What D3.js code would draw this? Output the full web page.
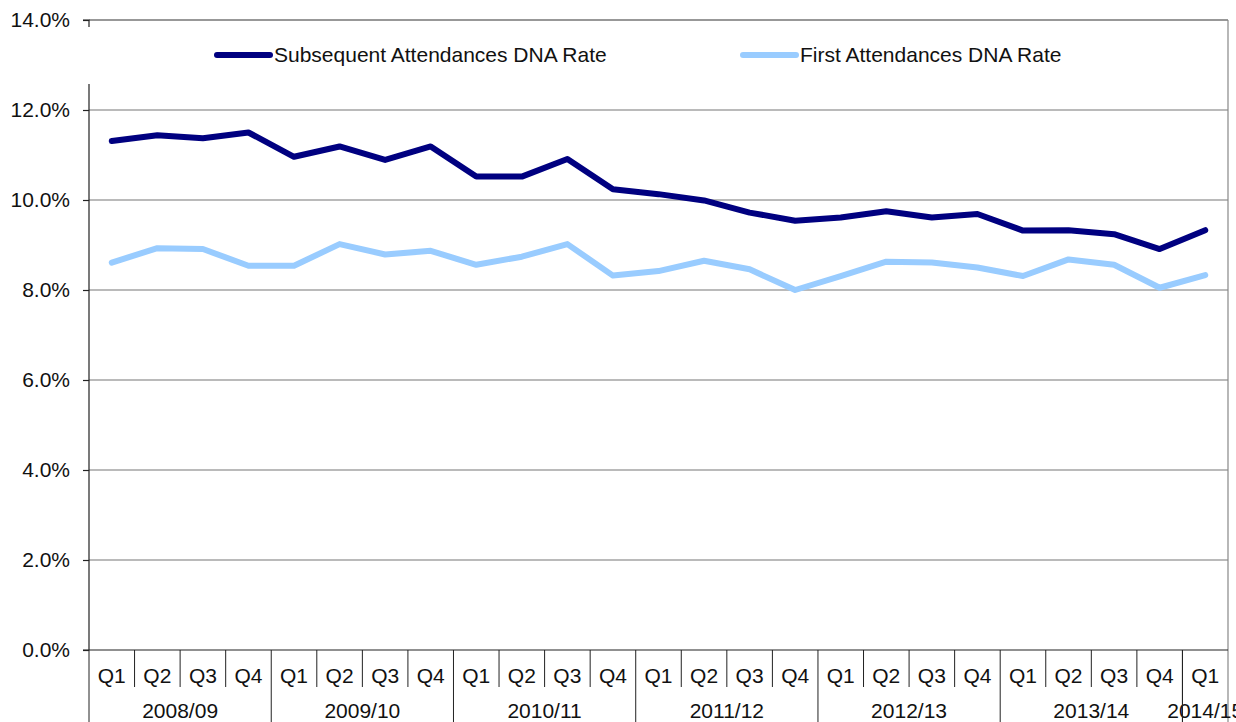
<!DOCTYPE html>
<html><head><meta charset="utf-8">
<script src="https://cdn.jsdelivr.net/npm/d3@7"></script>
<style>html,body{margin:0;padding:0;background:#fff}svg{display:block;font-family:"Liberation Sans",Arial,sans-serif}</style>
</head><body>
<svg id="c" width="1236" height="722"></svg>
<script>
const quarters = ["Q1","Q2","Q3","Q4","Q1","Q2","Q3","Q4","Q1","Q2","Q3","Q4","Q1","Q2","Q3","Q4","Q1","Q2","Q3","Q4","Q1","Q2","Q3","Q4","Q1"];
const years = ["2008/09","2009/10","2010/11","2011/12","2012/13","2013/14","2014/15"];
const subsequent = [11.31,11.44,11.37,11.50,10.96,11.19,10.89,11.19,10.52,10.52,10.91,10.24,10.13,9.99,9.72,9.54,9.61,9.75,9.61,9.69,9.32,9.33,9.24,8.91,9.33];
const first = [8.61,8.93,8.91,8.54,8.54,9.02,8.79,8.87,8.56,8.74,9.02,8.32,8.42,8.65,8.46,8.00,8.31,8.63,8.61,8.50,8.31,8.68,8.56,8.05,8.33];
const yTicks = [0,2,4,6,8,10,12,14];
const seriesNames = ["Subsequent Attendances DNA Rate","First Attendances DNA Rate"];
const colors = ["#000080","#99CCFF"];

const FS = 21;
const svg = d3.select("#c");
const L = 89, R = 1228, T = 20, B = 650;
const x = d3.scaleBand().domain(d3.range(quarters.length)).range([L, R]).padding(0);
const y = d3.scaleLinear().domain([0, 14]).range([B, T]);

// gridlines
svg.append("g").selectAll("line").data(yTicks.filter(d => d > 0)).join("line")
  .attr("x1", L).attr("x2", R).attr("y1", d => y(d)).attr("y2", d => y(d))
  .attr("stroke", d => d === 14 ? "#333" : "#777").attr("stroke-width", 1.2);

// right border
svg.append("line").attr("x1", R).attr("x2", R).attr("y1", T).attr("y2", 722)
  .attr("stroke", "#888").attr("stroke-width", 1.2);

// y axis
const yAxis = d3.axisLeft(y).tickValues(yTicks).tickSize(6).tickPadding(13)
  .tickFormat(d => d.toFixed(1) + "%");
const gy = svg.append("g").attr("transform", `translate(${L},0)`).call(yAxis);
gy.select(".domain").attr("stroke", "#222").attr("stroke-width", 1.2).attr("d", `M-6,${T}H0V${B}`);
gy.selectAll(".tick line").attr("stroke", "#222").attr("stroke-width", 1.2);
gy.selectAll(".tick text").attr("font-size", FS).attr("fill", "#111")
  .attr("font-family", '"Liberation Sans",Arial,sans-serif');

// x axis baseline
svg.append("line").attr("x1", L - 6).attr("x2", R).attr("y1", B).attr("y2", B)
  .attr("stroke", "#222").attr("stroke-width", 1.2);

// quarter separators
const bw = x.bandwidth();
svg.append("g").selectAll("line").data(d3.range(1, quarters.length)).join("line")
  .attr("x1", d => x(d)).attr("x2", d => x(d)).attr("y1", B).attr("y2", d => quarters[d] === "Q1" ? 722 : 687)
  .attr("stroke", "#222").attr("stroke-width", 1);
svg.append("line").attr("x1", L).attr("x2", L).attr("y1", B).attr("y2", 722)
  .attr("stroke", "#222").attr("stroke-width", 1);

svg.append("g").selectAll("text").data(quarters).join("text")
  .attr("x", (d, i) => x(i) + bw / 2).attr("y", 683).attr("text-anchor", "middle")
  .attr("font-size", FS).attr("fill", "#111").text(d => d);

// year labels
const yearStart = years.map((d, i) => i * 4);
svg.append("g").selectAll("text").data(years).join("text")
  .attr("x", (d, i) => {
    const s = yearStart[i], e = Math.min(s + 4, quarters.length);
    return (x(s) + x(e - 1) + bw) / 2;
  })
  .attr("y", 718).attr("text-anchor", "middle")
  .attr("font-size", FS).attr("fill", "#111").text(d => d);
// redraw last year separator on top of text
svg.append("line").attr("x1", x(24)).attr("x2", x(24)).attr("y1", B).attr("y2", 722)
  .attr("stroke", "#222").attr("stroke-width", 1);

// lines
const line = d3.line().x((d, i) => x(i) + bw / 2).y(d => y(d));
[subsequent, first].forEach((s, k) => {
  svg.append("path").datum(s).attr("d", line).attr("fill", "none")
    .attr("stroke", colors[k]).attr("stroke-width", 6)
    .attr("stroke-linejoin", "round").attr("stroke-linecap", "round");
});

// legend
svg.append("rect").attr("x", 84).attr("y", 27).attr("width", 1030).attr("height", 57).attr("fill", "#fff");
const legX = [217, 743];
seriesNames.forEach((n, k) => {
  svg.append("line").attr("x1", legX[k]).attr("x2", legX[k] + 53).attr("y1", 55).attr("y2", 55)
    .attr("stroke", colors[k]).attr("stroke-width", 6).attr("stroke-linecap", "round");
  svg.append("text").attr("x", legX[k] + 57).attr("y", 62).attr("font-size", FS).attr("fill", "#111").text(n);
});
</script>
</body></html>
